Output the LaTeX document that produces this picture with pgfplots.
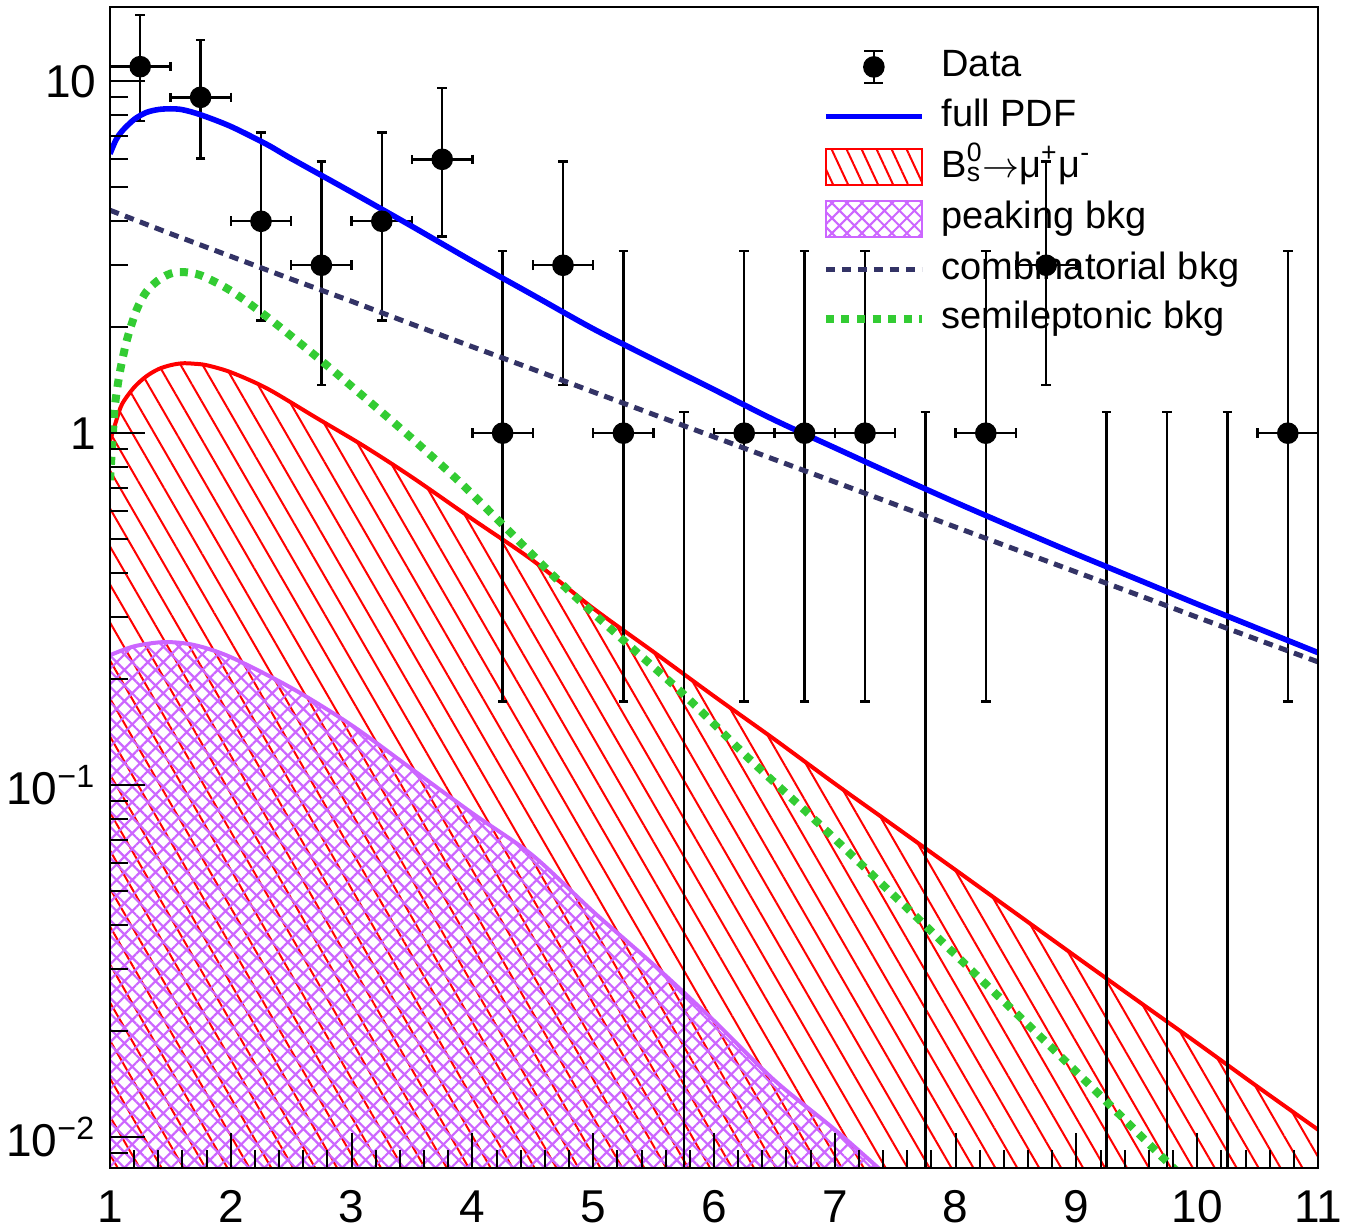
\documentclass[border=0pt]{standalone}
\usepackage{fontspec}
\setmainfont{Liberation Sans}
\usepackage{pgfplots}
\pgfplotsset{compat=1.18}
\usepackage{pgfplotstable}
\usetikzlibrary{patterns.meta}

\definecolor{sigred}{RGB}{255,0,0}
\definecolor{fullblue}{RGB}{0,0,255}
\definecolor{peakviolet}{RGB}{204,102,255}
\definecolor{combnavy}{RGB}{51,51,102}
\definecolor{semigreen}{RGB}{51,204,51}

% data: bin centre, count, half bin width, Poisson error up / down
\pgfplotstableread{
x y ex ep em
1.25 11 0.25 4.40 3.30
1.75 9 0.25 4.08 2.96
2.25 4 0.25 3.16 1.91
2.75 3 0.25 2.92 1.63
3.25 4 0.25 3.16 1.91
3.75 6 0.25 3.58 2.38
4.25 1 0.25 2.30 0.827
4.75 3 0.25 2.92 1.63
5.25 1 0.25 2.30 0.827
6.25 1 0.25 2.30 0.827
6.75 1 0.25 2.30 0.827
7.25 1 0.25 2.30 0.827
8.25 1 0.25 2.30 0.827
8.75 3 0.25 2.92 1.63
10.75 1 0.25 2.30 0.827
}\datatab

% empty bins: upper Poisson limit 1.148
\pgfplotstableread{
x y ep
5.75 0.004 1.144
7.75 0.004 1.144
9.25 0.004 1.144
9.75 0.004 1.144
10.25 0.004 1.144
}\zerotab

\pgfplotstableread{
x y
1.0 6.22
1.05 6.82
1.1 7.22
1.2 7.79
1.3 8.15
1.4 8.31
1.5 8.35
1.6 8.30
1.75 8.03
2.0 7.44
2.3 6.61
2.5 6.03
3.0 4.84
3.5 3.87
4.0 3.08
4.5 2.47
5.0 1.98
5.5 1.62
6.0 1.33
6.5 1.09
7.0 0.909
7.5 0.759
8.0 0.636
8.5 0.536
9.0 0.453
9.5 0.385
10.0 0.327
10.5 0.279
11.0 0.238
}\fulltab

\pgfplotstableread{
x y
1.0 4.30
1.5 3.69
2.0 3.18
2.5 2.74
3.0 2.37
3.5 2.04
4.0 1.76
4.5 1.52
5.0 1.31
5.5 1.13
6.0 0.976
6.5 0.842
7.0 0.727
7.5 0.627
8.0 0.541
8.5 0.467
9.0 0.403
9.5 0.348
10.0 0.300
10.5 0.259
11.0 0.224
}\combtab

\pgfplotstableread{
x y
1.0 0.735
1.02 0.95
1.04 1.19
1.08 1.48
1.14 1.84
1.22 2.24
1.3 2.52
1.4 2.72
1.5 2.84
1.6 2.87
1.75 2.81
2.0 2.54
2.3 2.14
2.7 1.66
3.1 1.27
3.5 0.966
3.9 0.724
4.25 0.550
4.75 0.370
5.25 0.258
5.75 0.181
6.3 0.118
6.8 0.0818
7.25 0.0582
7.75 0.0399
8.25 0.0272
8.75 0.0186
9.25 0.0126
9.75 0.00851
10.0 0.00708
}\semitab

\pgfplotstableread{
x y
1.0 0.95
1.05 1.08
1.1 1.21
1.2 1.35
1.3 1.45
1.4 1.52
1.5 1.56
1.6 1.58
1.7 1.575
1.8 1.56
2.0 1.49
2.3 1.34
2.7 1.11
3.1 0.92
3.5 0.75
4.0 0.57
4.5 0.435
5.0 0.318
5.5 0.239
6.0 0.179
6.5 0.135
7.0 0.101
7.5 0.0762
8.0 0.0574
8.5 0.0432
9.0 0.0325
9.5 0.0245
10.0 0.0185
10.5 0.0139
11.0 0.0105
}\sigtab

\pgfplotstableread{
x y
1.0 0.234
1.2 0.248
1.45 0.255
1.7 0.250
2.0 0.231
2.5 0.189
3.0 0.148
3.5 0.111
4.0 0.0832
4.5 0.0631
5.0 0.0437
5.5 0.0309
6.0 0.0214
6.5 0.0145
7.0 0.0105
7.5 0.00741
8.0 0.0052
}\peaktab

\newcommand{\supsub}[2]{\rlap{\textsuperscript{#1}}\textsubscript{#2}}

\begin{document}
\begin{tikzpicture}
\begin{axis}[
  name=main,
  scale only axis, width=302pt, height=290.125pt,
  xmin=1, xmax=11,
  ymode=log, ymin=0.00817, ymax=16.2,
  log origin y=infty,
  axis on top,
  xtick={1,2,3,4,5,6,7,8,9,10,11},
  minor x tick num=4,
  ytick={0.01,0.1,1,10},
  yticklabels={10\textsuperscript{−2},10\textsuperscript{−1},1,10},
  minor ytick={0.009,0.02,0.03,0.04,0.05,0.06,0.07,0.08,0.09,0.2,0.3,0.4,0.5,0.6,0.7,0.8,0.9,2,3,4,5,6,7,8,9},
  tick align=inside, xtick pos=bottom, ytick pos=left,
  major tick length=8.75pt, minor tick length=4.4pt,
  every tick/.style={black, line width=0.5pt},
  axis line style={line width=0.5pt},
  /pgf/number format/assume math mode=true,
  ticklabel style={font=\fontsize{11.5}{14}\selectfont},
  xticklabel style={inner sep=0pt, anchor=north, yshift=-5.5pt},
  yticklabel style={inner sep=0pt, anchor=east, xshift=-3.25pt},
  legend cell align=left,
  legend style={draw=none, fill=none, inner sep=0pt, outer sep=0pt,
    at={(0.5893,0.9643)}, anchor=north west,
    font=\fontsize{9.5}{11}\selectfont,
    nodes={inner sep=0pt, text height=7pt, text depth=2pt},
    row sep=3.4pt,
    /tikz/every odd column/.append style={column sep=3.9pt}},
]
% areas
\addplot[draw=none, pattern={Lines[angle=-60,distance=4.75pt,line width=0.5pt]}, pattern color=sigred, forget plot]
  table[x=x,y=y]{\sigtab} \closedcycle;
\addplot[draw=none, pattern={Hatch[angle=45,distance=2.75pt,line width=0.55pt]}, pattern color=peakviolet, forget plot]
  table[x=x,y=y]{\peaktab} \closedcycle;
\addplot[sigred, line width=1pt, smooth, forget plot] table[x=x,y=y]{\sigtab};
\addplot[peakviolet, line width=1pt, smooth, forget plot] table[x=x,y=y]{\peaktab};
% data
\addplot[black, only marks, mark=*, mark size=2.5pt, forget plot,
  error bars/.cd, x dir=both, x explicit, y dir=both, y explicit,
  error bar style={line width=0.6pt},
  error mark options={rotate=90, mark size=1.2pt, line width=0.6pt}]
  table[x=x, y=y, x error=ex, y error plus=ep, y error minus=em]{\datatab};
\addplot[black, only marks, mark=none, forget plot,
  error bars/.cd, y dir=plus, y explicit,
  error bar style={line width=0.6pt},
  error mark options={rotate=90, mark size=1.2pt, line width=0.6pt}]
  table[x=x, y=y, y error plus=ep]{\zerotab};
% curves
\addplot[combnavy, line width=1.25pt, dash pattern=on 2.35pt off 1.65pt, forget plot] table[x=x,y=y]{\combtab};
\addplot[semigreen, line width=2pt, dash pattern=on 2pt off 1.9pt, smooth, forget plot] table[x=x,y=y]{\semitab};
\addplot[fullblue, line width=1.4pt, smooth, forget plot] table[x=x,y=y]{\fulltab};

% legend
\addlegendimage{legend image code/.code={
  \path[draw=none,fill=none] (0pt,-4.5pt) rectangle (24pt,4.5pt);
  \draw[black, line width=0.6pt] (12pt,-4pt) -- (12pt,4pt);
  \draw[black, line width=0.6pt] (9.6pt,-4pt) -- (14.4pt,-4pt);
  \draw[black, line width=0.6pt] (9.6pt,4pt) -- (14.4pt,4pt);
  \fill[black] (12pt,0pt) circle (2.5pt);}}
\addlegendentry{Data}
\addlegendimage{legend image code/.code={
  \path[draw=none,fill=none] (0pt,-4.5pt) rectangle (24pt,4.5pt);
  \draw[fullblue, line width=1.4pt] (0pt,0pt) -- (24pt,0pt);}}
\addlegendentry{full PDF}
\addlegendimage{legend image code/.code={
  \draw[sigred, line width=0.5pt, pattern={Lines[angle=-65,distance=3.4pt,line width=0.5pt]}, pattern color=sigred] (0pt,-4.5pt) rectangle (24pt,4.5pt);}}
\addlegendentry{B\supsub{0}{s}$\rightarrow$μ\textsuperscript{+}μ\textsuperscript{-}}
\addlegendimage{legend image code/.code={
  \draw[peakviolet, line width=0.5pt, pattern={Hatch[angle=45,distance=2.65pt,line width=0.5pt]}, pattern color=peakviolet] (0pt,-4.5pt) rectangle (24pt,4.5pt);}}
\addlegendentry{peaking bkg}
\addlegendimage{legend image code/.code={
  \path[draw=none,fill=none] (0pt,-4.5pt) rectangle (24pt,4.5pt);
  \draw[combnavy, line width=1.25pt, dash pattern=on 2.35pt off 1.65pt] (0pt,0pt) -- (24pt,0pt);}}
\addlegendentry{combinatorial bkg}
\addlegendimage{legend image code/.code={
  \path[draw=none,fill=none] (0pt,-4.5pt) rectangle (24pt,4.5pt);
  \draw[semigreen, line width=2pt, dash pattern=on 2pt off 1.9pt] (0pt,0pt) -- (24pt,0pt);}}
\addlegendentry{semileptonic bkg}
\end{axis}
\pgfresetboundingbox
\path[use as bounding box] ([shift={(-27.5pt,-15.5pt)}]main.south west) rectangle ([shift={(7pt,1.875pt)}]main.north east);
\end{tikzpicture}
\end{document}
